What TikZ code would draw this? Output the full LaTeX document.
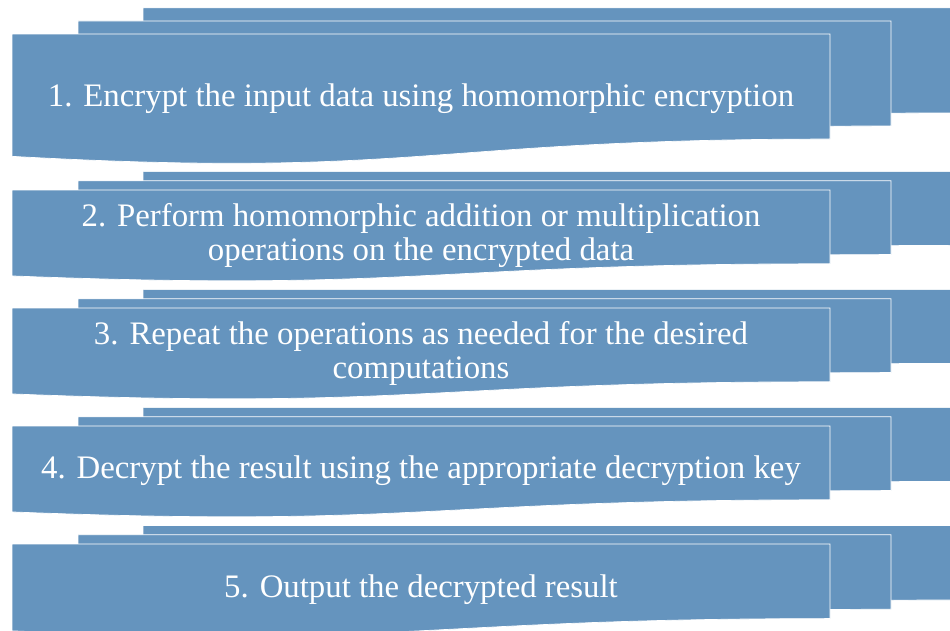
\documentclass[tikz,border=0pt]{standalone}
\usepackage{fontspec}
\setmainfont{Liberation Serif}
\definecolor{docblue}{RGB}{101,148,190}
\tikzset{
  docpage/.style={fill=docblue, draw=white, line width=0.6pt},
  tasktext/.style={text=white, align=center, font=\fontsize{28}{29}\selectfont}
}
% one page of a stack: left, top, width, height (pixel units)
\newcommand{\docsheet}[4]{%
  \draw[docpage] (#1,#2) -- ({#1+#3},#2) -- ({#1+#3},{#2+0.802*#4})
    .. controls ({#1+0.5*#3},{#2+0.802*#4}) and ({#1+0.5*#3},{#2+1.107*#4}) ..
    (#1,{#2+0.934*#4}) -- cycle;}
\begin{document}
\begin{tikzpicture}[x=0.03cm,y=-0.03cm]
  \clip (0,0) rectangle (950,630);
  \foreach \top/\h/\name/\txt in {
      34/131/task1/{1. Encrypt the input data using homomorphic encryption},
      190/92/task2/{2. Perform homomorphic addition or multiplication\\operations on the encrypted data},
      308/92/task3/{3. Repeat the operations as needed for the desired\\computations},
      426/92/task4/{4. Decrypt the result using the appropriate decryption key},
      544/93/task5/{5. Output the decrypted result}}
  {
    \docsheet{143}{\top-0.2*\h}{815}{\h}
    \docsheet{78}{\top-0.1*\h}{813}{\h}
    \docsheet{12}{\top}{818}{\h}
    \node[tasktext] (\name) at (421,{\top+0.49*\h}) {\txt};
  }
\end{tikzpicture}
\end{document}
